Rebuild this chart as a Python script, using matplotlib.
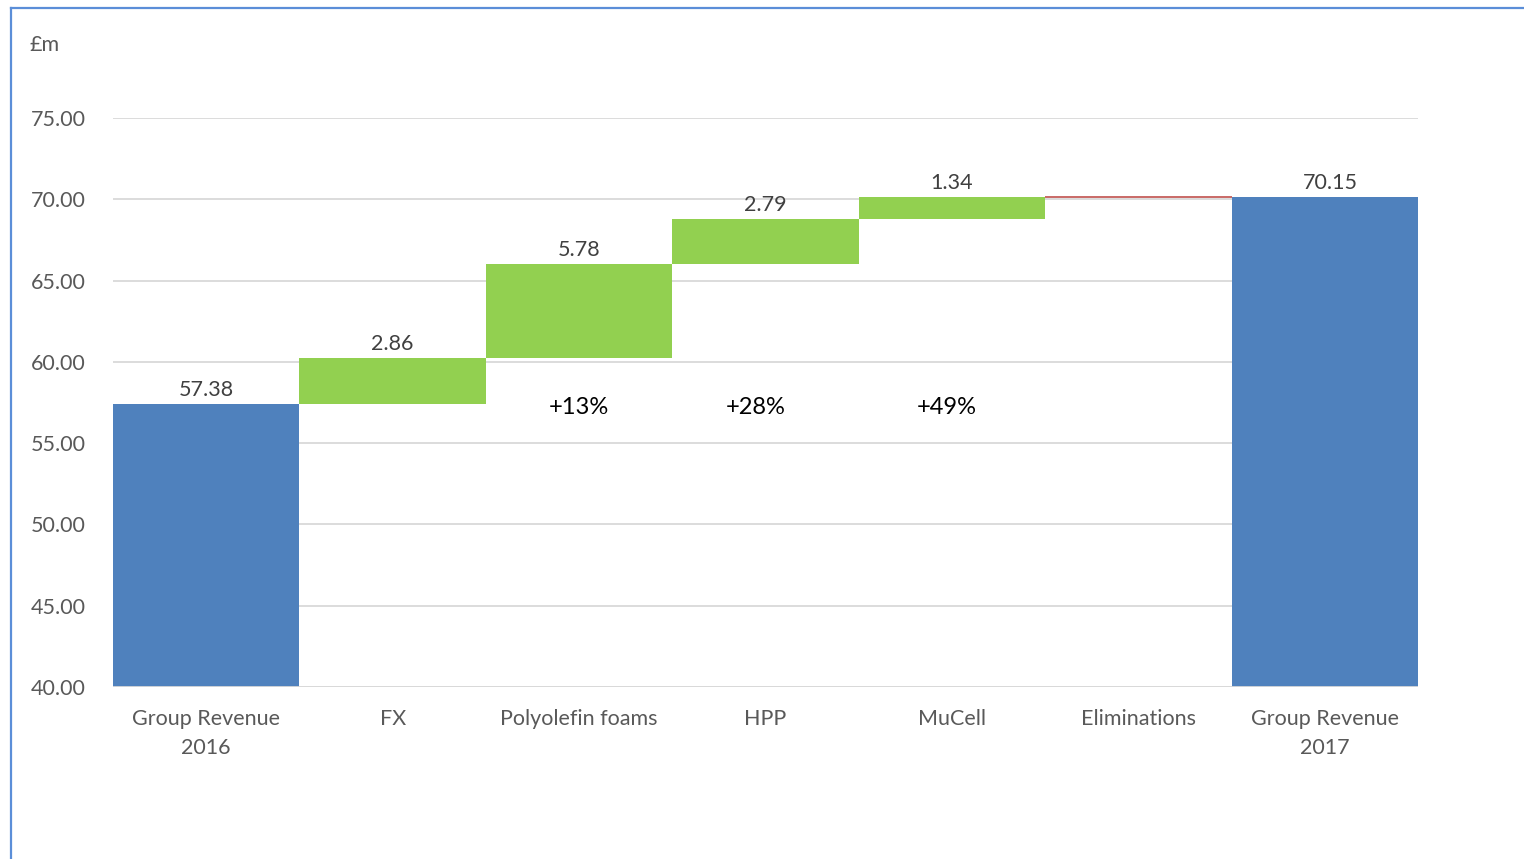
import matplotlib
matplotlib.use("Agg")
import matplotlib.pyplot as plt
from matplotlib.lines import Line2D
import numpy as np

# Data
# ----
categories = ['Group Revenue\n2016', 'FX', 'Polyolefin foams', 'HPP',
              'MuCell', 'Eliminations', 'Group Revenue\n2017']
start_total = 57.38
changes = [2.86, 5.78, 2.79, 1.34, -0.01]
end_total = 70.15
change_labels = ['2.86', '5.78', '2.79', '1.34', '']
pct_labels = ['+13%', '+28%', '+49%']
pct_cats = [2, 2.95, 3.97]

plt.rcParams['font.family'] = ['Lato', 'DejaVu Sans']

blue = '#4F81BD'
green = '#92D050'
red = '#C0504D'
txt = '#595959'

fig = plt.figure(figsize=(15.24, 8.59), dpi=100)
ax = fig.add_axes([113/1524, 1-687/859, (1418-113)/1524, (687-118)/859])

x = np.arange(len(categories))

# totals
ax.bar(x[0], start_total, width=1.0, color=blue)
ax.bar(x[-1], end_total, width=1.0, color=blue)

# floating changes
bottoms = start_total + np.concatenate([[0], np.cumsum(changes)[:-1]])
for i, (b, c) in enumerate(zip(bottoms, changes)):
    if c >= 0:
        ax.bar(x[i+1], c, bottom=b, width=1.0, color=green)
    else:
        ax.bar(x[i+1], c, bottom=b, width=1.0, color=red, edgecolor=red, linewidth=1.2)

# value labels
ax.text(x[0], start_total + 0.25, f'{start_total:.2f}', ha='center', va='bottom',
        fontsize=15.5, color='#404040')
ax.text(x[-1] + 0.03, end_total + 0.25, f'{end_total:.2f}', ha='center', va='bottom',
        fontsize=15.5, color='#404040')
for i, (b, c, lab) in enumerate(zip(bottoms, changes, change_labels)):
    if lab:
        ax.text(x[i+1], b + c + 0.25, lab, ha='center', va='bottom',
                fontsize=15.5, color='#404040')

for px, lab in zip(pct_cats, pct_labels):
    ax.text(px, 57.2, lab, ha='center', va='center', fontsize=17, color='black')

ax.set_xlim(-0.5, 6.5)
ax.set_ylim(40, 75)
ax.set_yticks(np.arange(40, 76, 5))
ax.set_yticklabels([f'{v:.2f}' for v in np.arange(40, 76, 5)])
ax.set_xticks(x)
ax.set_xticklabels(categories, linespacing=1.55)
ax.tick_params(axis='both', length=0, labelsize=15.5, labelcolor=txt)
ax.tick_params(axis='y', pad=19.5)
ax.tick_params(axis='x', pad=16)
ax.yaxis.grid(True, color='#D9D9D9', linewidth=1.3)
ax.set_axisbelow(True)
for s in ax.spines.values():
    s.set_visible(False)
ax.axhline(40, color='#D9D9D9', linewidth=1.3, zorder=3)

fig.text(30/1524, 1-45/859, '£m', fontsize=15.5, color=txt, va='center', ha='left')

# outer frame (left and top)
fig.add_artist(Line2D([11/1524, 11/1524], [0, 1-8/859], transform=fig.transFigure,
                      color='#5B8ED8', linewidth=1.6))
fig.add_artist(Line2D([11/1524, 1], [1-8/859, 1-8/859], transform=fig.transFigure,
                      color='#5B8ED8', linewidth=1.6))

plt.savefig('out.png', dpi=100)
